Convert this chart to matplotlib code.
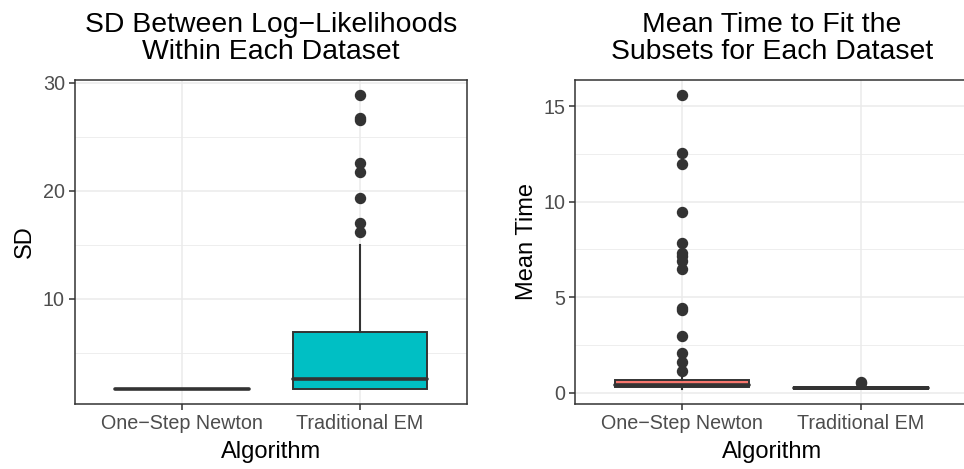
import matplotlib
matplotlib.use('Agg')
import matplotlib.pyplot as plt
import numpy as np

plt.rcParams['font.family'] = ['Liberation Sans', 'DejaVu Sans']

# ---------------- data ----------------
algorithms = ['One\u2212Step Newton', 'Traditional EM']
fills = ['#F8766D', '#00BFC4']

# Panel 1: SD between log-likelihoods within each dataset
sd_q1 = [1.62, 1.63]
sd_med = [1.62, 2.55]
sd_q3 = [1.62, 6.95]
sd_whislo = [1.62, 1.60]
sd_whishi = [1.62, 14.96]
sd_outliers = [[], [16.2, 17.0, 19.3, 21.7, 22.6, 26.6, 26.7, 28.9]]
sd_yticks = [10, 20, 30]
sd_yminor = [5, 15, 25]
sd_title = ['SD Between Log\u2212Likelihoods', 'Within Each Dataset']

# Panel 2: mean time to fit the subsets for each dataset
time_q1 = [0.31, 0.20]
time_med = [0.425, 0.25]
time_q3 = [0.69, 0.30]
time_whislo = [0.22, 0.18]
time_whishi = [0.95, 0.40]
time_outliers = [[1.16, 1.62, 2.07, 2.99, 4.33, 4.42, 6.49, 6.87, 7.13, 7.31,
                  7.83, 9.47, 11.96, 12.53, 15.59],
                 [0.50, 0.55]]
time_yticks = [0, 5, 10, 15]
time_yminor = [2.5, 7.5, 12.5]
time_title = ['Mean Time to Fit the', 'Subsets for Each Dataset']

DARK = '#333333'
GRID = '#EBEBEB'
TICKTXT = '#4D4D4D'

W, H = 964, 469
fig = plt.figure(figsize=(W / 100, H / 100), dpi=100)
PANEL_H = 324


def panel(rect, q1, med, q3, wlo, whi, outl, yticks, yminor, ylabel, title,
          ylab_x):
    ax = fig.add_axes(rect)
    stats = []
    for a, m, b, lo, hi, f in zip(q1, med, q3, wlo, whi, outl):
        stats.append(dict(q1=a, med=m, q3=b, whislo=lo, whishi=hi, fliers=f))
    bp = ax.bxp(stats, positions=[1, 2], widths=0.75, patch_artist=True,
                showcaps=False,
                boxprops=dict(edgecolor=DARK, linewidth=1.4),
                medianprops=dict(color=DARK, linewidth=2.6,
                                 solid_capstyle='round'),
                whiskerprops=dict(color=DARK, linewidth=1.5),
                flierprops=dict(marker='o', markerfacecolor=DARK,
                                markeredgecolor=DARK, markersize=7.2))
    for patch, c in zip(bp['boxes'], fills):
        patch.set_facecolor(c)
        patch.set_zorder(2)
    allv = np.concatenate([q1, med, q3, wlo, whi] + [np.array(o, float) for o in outl])
    lo, hi = allv.min(), allv.max()
    pad = 0.05 * (hi - lo)
    ax.set_ylim(lo - pad, hi + pad)
    ax.set_xlim(0.4, 2.6)
    ax.set_axisbelow(True)
    ax.set_yticks(yticks)
    ax.set_yticks(yminor, minor=True)
    ax.set_xticks([1, 2], algorithms)
    ax.grid(which='major', color=GRID, linewidth=1.1)
    ax.grid(which='minor', axis='y', color=GRID, linewidth=0.6)
    ax.tick_params(which='major', length=4, width=1.1, color=DARK,
                   labelsize=14.2, labelcolor=TICKTXT, pad=3)
    ax.tick_params(which='minor', length=0)
    for s in ax.spines.values():
        s.set_color(DARK)
        s.set_linewidth(1.1)
    ax.set_xlabel('Algorithm', fontsize=17, color='black')
    ax.xaxis.label.set_va('baseline')
    ax.xaxis.set_label_coords(0.5, -54 / PANEL_H)
    ax.set_ylabel(ylabel, fontsize=17, color='black')
    ax.yaxis.label.set_va('center')
    ax.yaxis.set_label_coords(ylab_x, 0.5)
    # two-line title, baselines at 31.7 px and 59.3 px from the figure top
    for line, base_y in zip(title, [31.7, 59.3]):
        ax.text(0.5, 1 + (80 - base_y) / PANEL_H, line, transform=ax.transAxes,
                ha='center', va='baseline', fontsize=20.4, color='black')
    return ax


bottom = 1 - 404 / H
height = PANEL_H / H
panel([74.7 / W, bottom, 392.3 / W, height], sd_q1, sd_med, sd_q3, sd_whislo,
      sd_whishi, sd_outliers, sd_yticks, sd_yminor, 'SD', sd_title,
      (25 - 74.7) / 392.3)
panel([575.3 / W, bottom, 392.7 / W, height], time_q1, time_med, time_q3,
      time_whislo, time_whishi, time_outliers, time_yticks, time_yminor,
      'Mean Time', time_title, (527 - 575.3) / 392.7)

fig.savefig('out.png', dpi=100)
